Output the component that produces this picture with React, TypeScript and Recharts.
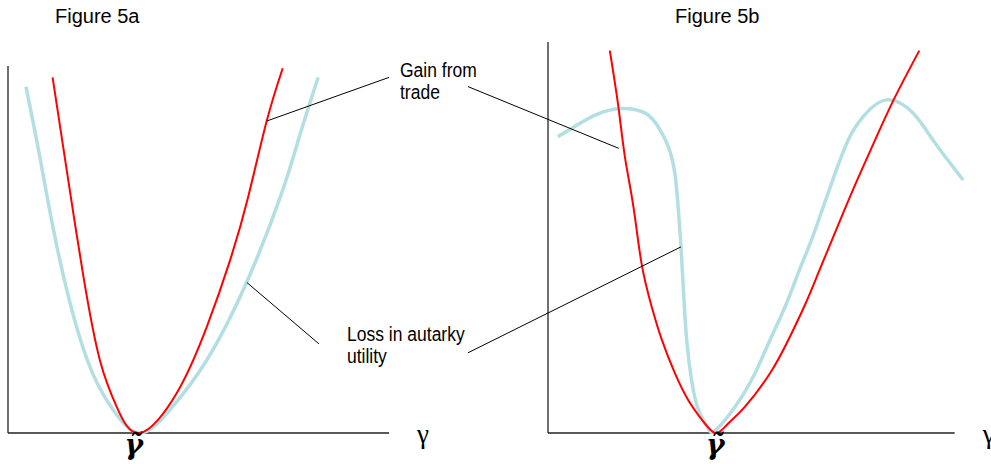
import { LineChart, Line, XAxis, YAxis, ReferenceLine } from 'recharts';

// Figure 5a: utility against gamma
const redAGamma = [1.17, 1.54, 1.98, 2.41, 2.85, 3.46, 4.43, 5.22, 5.83, 6.31, 6.79, 7.21];
const redAUtil = [9.69, 7.17, 4.26, 1.99, 0.72, 0, 1.09, 2.9, 4.71, 6.46, 8.5, 9.94];
const blueAGamma = [0.47, 0.85, 1.36, 2.08, 2.76, 3.46, 4.25, 5.22, 6.27, 7.18, 7.66, 8.14];
const blueAUtil = [9.44, 7.44, 4.71, 1.99, 0.63, 0, 0.63, 1.99, 4.12, 6.53, 8.12, 9.69];

// Figure 5b
const redBGamma = [1.52, 1.73, 1.89, 2.1, 2.3, 2.55, 2.8, 3.12, 3.45, 3.79, 4.11, 4.39, 4.84, 5.46, 5.91, 6.32, 6.65, 7.02, 7.47, 7.96, 8.49, 9.13];
const redBUtil = [9.78, 8.35, 7.07, 5.79, 4.34, 3.23, 2.38, 1.53, 0.84, 0.33, 0, 0.2, 0.67, 1.53, 2.38, 3.28, 4.1, 5.03, 6.15, 7.3, 8.5, 9.78];
const blueBGamma = [0.24, 0.58, 1.16, 1.81, 2.39, 2.71, 2.96, 3.12, 3.2, 3.27, 3.33, 3.41, 3.53, 3.7, 3.94, 4.11, 4.6, 5.09, 5.46, 5.83, 6.15, 6.48, 6.77, 7.06, 7.38, 7.75, 8.33, 8.98, 9.47, 10.21];
const blueBUtil = [7.58, 7.79, 8.13, 8.3, 8.18, 7.83, 7.32, 6.64, 5.79, 4.76, 3.66, 2.38, 1.35, 0.59, 0.12, 0.06, 0.67, 1.53, 2.38, 3.23, 4.08, 4.94, 5.79, 6.64, 7.49, 8.09, 8.52, 8.18, 7.49, 6.47];

const gammaTildeA = 3.46;
const gammaTildeB = 4.11;

// leader lines from the labels to the curves, in each panel's data units
const gainLeaderA = [{ x: 6.79, y: 8.5 }, { x: 10.0, y: 9.69 }];
const lossLeaderA = [{ x: 6.27, y: 4.1 }, { x: 8.16, y: 2.43 }];
const gainLeaderB = [{ x: -1.97, y: 8.86 }, { x: 1.74, y: 7.28 }];
const lossLeaderB = [{ x: -1.97, y: 2.05 }, { x: 3.27, y: 4.76 }];

const RED = '#ff0000';
const BLUE = '#b4dfe2';

const toPoints = (gs: number[], us: number[]) => gs.map((g, i) => ({ g, u: us[i] }));

const tildeTick = (dx: number) => ({
  fontSize: 28,
  fontFamily: 'DejaVu Serif',
  fontStyle: 'italic',
  fontWeight: 'bold',
  fill: '#000',
  dx,
});

const gammaLabel = {
  value: 'γ',
  position: 'right' as const,
  offset: 28,
  fontSize: 27,
  fontFamily: 'Liberation Serif',
  fill: '#000',
};

const noteStyle = {
  position: 'absolute' as const,
  fontFamily: 'Liberation Sans',
  fontSize: 17.5,
  lineHeight: '20px',
  color: '#000',
  transform: 'scaleY(1.12)',
  transformOrigin: 'top left',
  whiteSpace: 'nowrap' as const,
};

const titleStyle = {
  position: 'absolute' as const,
  fontFamily: 'Liberation Sans',
  fontSize: 20,
  lineHeight: '20px',
  color: '#000',
  top: 6,
};

function Panel({
  left, width, margin, xMax, red, blue, tilde, tildeDx, leaders,
}: {
  left: number;
  width: number;
  margin: { top: number; left: number; right: number; bottom: number };
  xMax: number;
  red: { g: number; u: number }[];
  blue: { g: number; u: number }[];
  tilde: number;
  tildeDx: number;
  leaders: { x: number; y: number }[][];
}) {
  return (
    <div style={{ position: 'absolute', left, top: 0 }}>
      <LineChart width={width} height={464} margin={margin}>
        <XAxis
          type="number"
          dataKey="g"
          domain={[0, xMax]}
          ticks={[tilde]}
          tickFormatter={() => 'γ̃'}
          axisLine={false}
          tickLine={false}
          tickSize={0}
          tickMargin={1}
          height={31}
          interval={0}
          tick={tildeTick(tildeDx)}
        />
        <YAxis type="number" dataKey="u" domain={[0, 10]} hide width={0} />
        <ReferenceLine segment={[{ x: 0, y: 0 }, { x: 0, y: 10 }]} stroke="#222" strokeWidth={1.3} ifOverflow="visible" />
        <ReferenceLine
          segment={[{ x: 0, y: 0 }, { x: 10, y: 0 }]}
          stroke="#222"
          strokeWidth={1.3}
          ifOverflow="visible"
          label={gammaLabel}
        />
        <Line data={blue} dataKey="u" type="natural" stroke={BLUE} strokeWidth={3.5} dot={false} isAnimationActive={false} />
        <Line data={red} dataKey="u" type="natural" stroke={RED} strokeWidth={2} dot={false} isAnimationActive={false} />
        {leaders.map((seg, i) => (
          <ReferenceLine key={i} segment={seg} stroke="#000" strokeWidth={1} ifOverflow="visible" />
        ))}
      </LineChart>
    </div>
  );
}

export default function App() {
  return (
    <div style={{ position: 'absolute', left: 0, top: 0, width: 991, height: 464, background: '#fff', overflow: 'hidden' }}>
      <Panel
        left={0}
        width={460}
        margin={{ top: 66, left: 8, right: 71, bottom: 0 }}
        xMax={10}
        red={toPoints(redAGamma, redAUtil)}
        blue={toPoints(blueAGamma, blueAUtil)}
        tilde={gammaTildeA}
        tildeDx={-6}
        leaders={[gainLeaderA, lossLeaderA]}
      />
      <Panel
        left={460}
        width={531}
        margin={{ top: 42, left: 88, right: 16, bottom: 0 }}
        xMax={10.5}
        red={toPoints(redBGamma, redBUtil)}
        blue={toPoints(blueBGamma, blueBUtil)}
        tilde={gammaTildeB}
        tildeDx={0}
        leaders={[gainLeaderB, lossLeaderB]}
      />
      <div style={{ ...titleStyle, left: 55 }}>Figure 5a</div>
      <div style={{ ...titleStyle, left: 675 }}>Figure 5b</div>
      <div style={{ ...noteStyle, left: 400, top: 59 }}>
        Gain from
        <br />
        trade
      </div>
      <div style={{ ...noteStyle, left: 347, top: 323 }}>
        Loss in autarky
        <br />
        utility
      </div>
    </div>
  );
}
